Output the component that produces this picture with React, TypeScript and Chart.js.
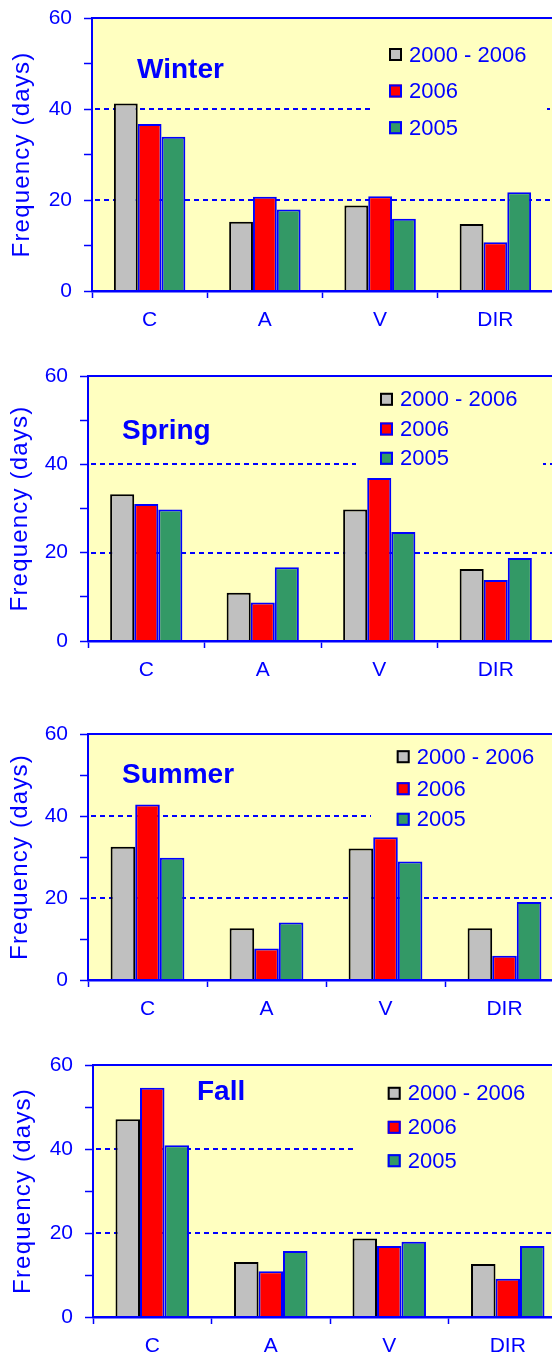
import React, { useEffect, useRef } from 'react';
import { Chart, registerables } from 'chart.js';

Chart.register(...registerables);

// ---------- data ----------
const categories = ['C', 'A', 'V', 'DIR'];
const seriesLabels = ['2000 - 2006', '2006', '2005'];
const yTickLabels = [0, 20, 40, 60];
const dashedGridValues = [20, 40];

const winterAll = [41.2, 15.2, 18.8, 14.7];
const winter2006 = [36.7, 20.7, 20.8, 10.7];
const winter2005 = [33.9, 17.9, 15.9, 21.7];

const springAll = [33.2, 10.9, 29.8, 16.3];
const spring2006 = [31.0, 8.7, 36.9, 13.8];
const spring2005 = [29.8, 16.7, 24.7, 18.8];

const summerAll = [32.5, 12.6, 32.1, 12.6];
const summer2006 = [42.8, 7.7, 34.8, 5.9];
const summer2005 = [29.8, 14.0, 28.9, 19.0];

const fallAll = [47.1, 13.1, 18.7, 12.6];
const fall2006 = [54.6, 10.9, 16.9, 9.1];
const fall2005 = [40.9, 15.7, 17.9, 16.9];

// ---------- style ----------
const BLUE = '#0000FF';
const YELLOW = '#FFFFC0';
const FONT = '"Liberation Sans", Arial, sans-serif';
const fills = ['#C0C0C0', '#FF0000', '#339966'];
const borders = ['#000000', BLUE, BLUE];

const CW = 600;
const PAD_TOP = 27;
const XH = 45;

type PanelCfg = {
  season: string;
  values: number[][];
  top: number;
  bottom: number;
  left: number;
  right: number;
  titleDx: number;
  titleDy: number;
  legDx: number;
  legDy: number[];
  gap: number[];
  yTitleX: number;
};

const panels: PanelCfg[] = [
  {
    season: 'Winter',
    values: [winterAll, winter2006, winter2005],
    top: 18, bottom: 291, left: 92, right: 553,
    titleDx: 45, titleDy: 60,
    legDx: 297, legDy: [36.5, 73, 109.7],
    gap: [278, 455],
    yTitleX: 22.5,
  },
  {
    season: 'Spring',
    values: [springAll, spring2006, spring2005],
    top: 376, bottom: 641, left: 88, right: 554,
    titleDx: 34, titleDy: 63,
    legDx: 292, legDy: [23.3, 53, 82.3],
    gap: [268, 455],
    yTitleX: 20.5,
  },
  {
    season: 'Summer',
    values: [summerAll, summer2006, summer2005],
    top: 734, bottom: 980, left: 88, right: 564,
    titleDx: 34, titleDy: 49,
    legDx: 308.7, legDy: [22.7, 54.7, 85.3],
    gap: [283, 520],
    yTitleX: 20.5,
  },
  {
    season: 'Fall',
    values: [fallAll, fall2006, fall2005],
    top: 1065, bottom: 1317, left: 93, right: 567,
    titleDx: 104, titleDy: 35,
    legDx: 294.7, legDy: [28.3, 62.3, 95.7],
    gap: [261, 520],
    yTitleX: 23.5,
  },
];

function makeDecor(p: PanelCfg) {
  return {
    id: 'panelDecor',
    beforeDraw(chart: any) {
      const { ctx, chartArea: a } = chart;
      ctx.save();
      ctx.fillStyle = YELLOW;
      ctx.fillRect(a.left, a.top, a.right - a.left, a.bottom - a.top);
      ctx.restore();
    },
    beforeDatasetsDraw(chart: any) {
      const { ctx, chartArea: a } = chart;
      const ys = chart.scales.y;
      ctx.save();
      // dashed grid lines at 20 and 40
      ctx.strokeStyle = BLUE;
      ctx.lineWidth = 2;
      ctx.setLineDash([5, 4]);
      dashedGridValues.forEach((v) => {
        const y = Math.round(ys.getPixelForValue(v));
        ctx.beginPath();
        ctx.moveTo(a.left + 3, y);
        ctx.lineTo(a.right, y);
        ctx.stroke();
      });
      ctx.setLineDash([]);
      // legend backdrop (hides the dashed grid lines behind the legend)
      ctx.fillStyle = YELLOW;
      ctx.fillRect(a.left + p.gap[0], a.top + 2, p.gap[1] - p.gap[0], p.legDy[2] + 16);
      // top border of plot area
      ctx.strokeStyle = BLUE;
      ctx.lineWidth = 2;
      ctx.beginPath();
      ctx.moveTo(a.left, a.top);
      ctx.lineTo(a.right, a.top);
      ctx.stroke();
      ctx.restore();
    },
    afterDatasetsDraw(chart: any) {
      const { ctx, chartArea: a } = chart;
      ctx.save();
      // season title
      ctx.fillStyle = BLUE;
      ctx.font = `bold 28px ${FONT}`;
      ctx.textBaseline = 'alphabetic';
      ctx.textAlign = 'left';
      ctx.fillText(p.season, a.left + p.titleDx, a.top + p.titleDy);
      // legend
      chart.data.datasets.forEach((ds: any, i: number) => {
        const cy = a.top + p.legDy[i];
        const mx = a.left + p.legDx;
        ctx.fillStyle = ds.backgroundColor;
        ctx.fillRect(mx, cy - 6.5, 13, 13);
        ctx.strokeStyle = ds.borderColor;
        ctx.lineWidth = 2;
        ctx.strokeRect(mx + 1, cy - 5.5, 11, 11);
        ctx.fillStyle = BLUE;
        ctx.font = `22px ${FONT}`;
        ctx.textBaseline = 'middle';
        ctx.fillText(ds.label, mx + 20, cy + 1);
      });
      // y axis title
      ctx.save();
      ctx.translate(p.yTitleX, (a.top + a.bottom) / 2);
      ctx.rotate(-Math.PI / 2);
      ctx.font = `24px ${FONT}`;
      (ctx as any).letterSpacing = '1.2px';
      ctx.textAlign = 'center';
      ctx.textBaseline = 'middle';
      ctx.fillStyle = BLUE;
      ctx.fillText('Frequency (days)', 0, 0);
      ctx.restore();
      ctx.restore();
    },
  };
}

function Panel({ p }: { p: PanelCfg }) {
  const ref = useRef<HTMLCanvasElement | null>(null);
  const h = PAD_TOP + (p.bottom - p.top) + XH;
  useEffect(() => {
    if (!ref.current) return;
    const chart = new Chart(ref.current, {
      type: 'bar',
      data: {
        labels: categories,
        datasets: p.values.map((vals, i) => ({
          label: seriesLabels[i],
          data: vals,
          backgroundColor: fills[i],
          borderColor: borders[i],
          borderWidth: 2,
          categoryPercentage: 0.62,
          barPercentage: 1,
        })),
      },
      options: {
        responsive: false,
        animation: false,
        devicePixelRatio: 1,
        layout: { padding: { top: PAD_TOP, left: 0, right: CW - p.right, bottom: 0 } },
        plugins: { legend: { display: false }, tooltip: { enabled: false }, title: { display: false } },
        scales: {
          x: {
            type: 'category',
            offset: true,
            grid: {
              display: true,
              drawOnChartArea: false,
              drawTicks: true,
              tickLength: 7,
              tickColor: BLUE,
              tickWidth: 1.5,
              offset: true,
            },
            border: { display: true, color: BLUE, width: 2.5, z: 1 },
            ticks: {
              color: BLUE,
              font: { family: FONT, size: 21 },
              padding: 10,
              maxRotation: 0,
              autoSkip: false,
            },
            afterFit: (s: any) => { s.height = XH; },
          },
          y: {
            min: 0,
            max: 60,
            ticks: {
              stepSize: 10,
              color: BLUE,
              font: { family: FONT, size: 21 },
              padding: 12,
              callback: (v: any) => (yTickLabels.includes(Number(v)) ? String(v) : ''),
            },
            grid: {
              color: 'rgba(0,0,0,0)',
              drawOnChartArea: true,
              drawTicks: true,
              tickLength: 8,
              tickColor: BLUE,
              tickWidth: 1.5,
            },
            border: { display: true, color: BLUE, width: 2 },
            title: { display: false },
            afterFit: (s: any) => { s.width = p.left; },
          },
        },
      } as any,
      plugins: [makeDecor(p)],
    });
    return () => chart.destroy();
  }, [p]);
  return (
    <canvas
      ref={ref}
      width={CW}
      height={h}
      style={{ position: 'absolute', left: 0, top: p.top - PAD_TOP, width: CW, height: h }}
    />
  );
}

export default function App() {
  return (
    <div
      style={{
        position: 'absolute',
        left: 0,
        top: 0,
        width: 552,
        height: 1357,
        overflow: 'hidden',
        background: '#ffffff',
      }}
    >
      {panels.map((p) => (
        <Panel key={p.season} p={p} />
      ))}
    </div>
  );
}
